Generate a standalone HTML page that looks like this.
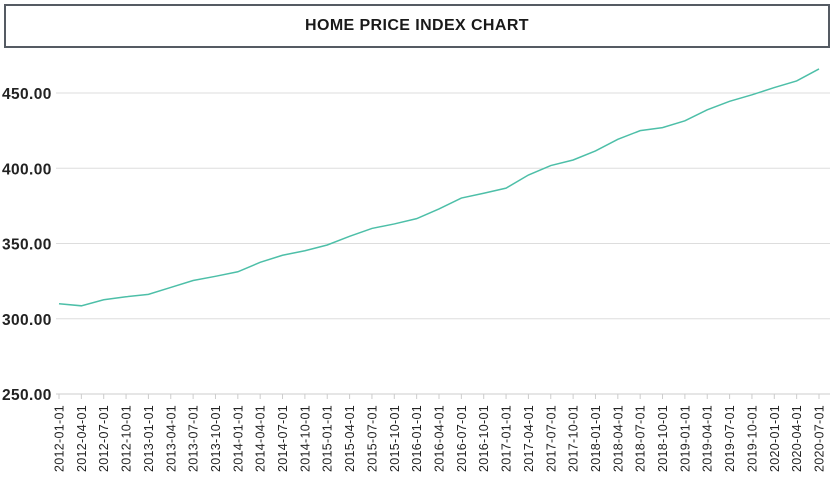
<!DOCTYPE html>
<html><head><meta charset="utf-8"><style>
body{margin:0;background:#fff;font-family:"Liberation Sans",sans-serif;}
#title{position:absolute;left:4px;top:4px;width:822px;height:40px;border:2px solid #555b63;text-align:center;line-height:40px;font-weight:bold;font-size:16px;color:#1a1a1a;letter-spacing:0.4px}
svg{position:absolute;left:0;top:0}
</style></head><body>
<div id="title">HOME PRICE INDEX CHART</div>
<svg id="c" width="835" height="483"></svg>
<script>
const categories=["2012-01-01","2012-04-01","2012-07-01","2012-10-01","2013-01-01","2013-04-01","2013-07-01","2013-10-01","2014-01-01","2014-04-01","2014-07-01","2014-10-01","2015-01-01","2015-04-01","2015-07-01","2015-10-01","2016-01-01","2016-04-01","2016-07-01","2016-10-01","2017-01-01","2017-04-01","2017-07-01","2017-10-01","2018-01-01","2018-04-01","2018-07-01","2018-10-01","2019-01-01","2019-04-01","2019-07-01","2019-10-01","2020-01-01","2020-04-01","2020-07-01"];
const values=[310,308.6,312.6,314.6,316.2,320.8,325.4,328.2,331.2,337.5,342.2,345.2,349,354.8,360,363,366.5,373,380.2,383.4,386.8,395.5,401.8,405.5,411.5,419.2,425,427,431.5,438.8,444.5,448.8,453.6,458,466];
const yTicks=[250,300,350,400,450];
const ns="http://www.w3.org/2000/svg",svg=document.getElementById('c');
const y=v=>394-(v-250)*(394-93)/200;
const x=i=>59+i*(819-59)/(categories.length-1);
function mk(t,a){const e=document.createElementNS(ns,t);for(const k in a)e.setAttribute(k,a[k]);svg.appendChild(e);return e;}
yTicks.forEach(t=>{
 const g=mk('line',{x1:56,x2:830,y1:y(t),y2:y(t),stroke:t===250?'#ccc':'#ddd','stroke-width':1});
 
 
 const l=mk('text',{x:2,y:y(t)+6,'font-size':15.5,'font-weight':'bold',fill:'#222','letter-spacing':0.4});
 l.textContent=t.toFixed(2);
 
 
});
categories.forEach((c,i)=>{
 const tk=mk('line',{x1:x(i),x2:x(i),y1:394,y2:399,stroke:'#ccc'});
 
 
 const t=mk('text',{x:0,y:0,'font-size':12.5,fill:'#222','text-anchor':'end','letter-spacing':0.3,transform:`translate(${x(i)+4.5},405) rotate(-90)`});
 t.textContent=c;
 
 
});
const p=mk('polyline',{points:values.map((v,i)=>x(i)+','+y(v)).join(' '),fill:'none',stroke:'#4dbfa8','stroke-width':1.5});


</script>
</body></html>
